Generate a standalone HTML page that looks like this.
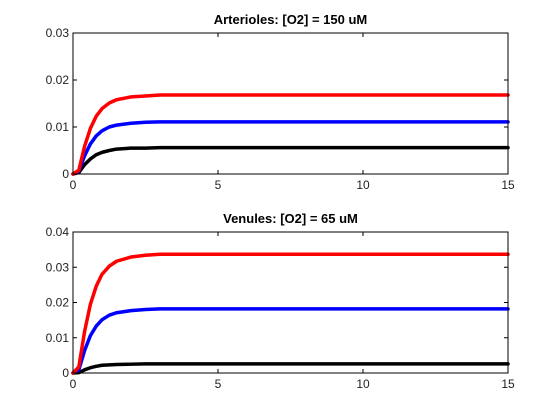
<!DOCTYPE html>
<html><head><meta charset="utf-8"><style>
body{margin:0;background:#fff}
svg{display:block;font-family:"Liberation Sans",Arial,sans-serif}
</style></head><body>
<svg id="c" width="560" height="420"></svg>
<script>
const times=[0,0.2,0.4,0.6,0.8,1.0,1.25,1.5,2,2.5,3,4,6,15];
const artRed=[0,0.0008,0.0059,0.0097,0.0123,0.0139,0.0151,0.0158,0.0164,0.0166,0.0168,0.0168,0.0168,0.0168];
const artBlue=[0,0.0006,0.0039,0.0064,0.0081,0.0092,0.0100,0.0104,0.0108,0.0110,0.0111,0.0111,0.0111,0.0111];
const artBlack=[0,0.0003,0.0020,0.0032,0.0041,0.0046,0.0050,0.0053,0.0055,0.0055,0.0056,0.0056,0.0056,0.0056];
const venRed=[0,0.0017,0.0118,0.0195,0.0246,0.0280,0.0303,0.0317,0.0329,0.0334,0.0337,0.0337,0.0337,0.0337];
const venBlue=[0,0.0009,0.0064,0.0106,0.0133,0.0151,0.0164,0.0171,0.0177,0.0180,0.0182,0.0182,0.0182,0.0182];
const venBlack=[0,0.0001,0.0009,0.0015,0.0019,0.0022,0.0023,0.0024,0.0025,0.0026,0.0026,0.0026,0.0026,0.0026];
const xTicks=[0,5,10,15];
const artYTicks=[0,0.01,0.02,0.03];
const artYLabels=["0","0.01","0.02","0.03"];
const venYTicks=[0,0.01,0.02,0.03,0.04];
const venYLabels=["0","0.01","0.02","0.03","0.04"];
const svg=document.getElementById('c');
const NS='http://www.w3.org/2000/svg';
function mk(tag,attrs,parent){const e=document.createElementNS(NS,tag);for(const k in attrs)e.setAttribute(k,attrs[k]);parent.appendChild(e);return e;}
function panel(name,title,top,bottom,ymax,yTicks,yLabels,series){
  const L=73,R=508;
  const g=mk('g',{},svg);
  
  
  const xs=v=>L+(v/15)*(R-L);
  const ys=v=>bottom-(v/ymax)*(bottom-top);
  const t=mk('text',{x:(L+R)/2,y:top-9,'text-anchor':'middle','font-size':'13','font-weight':'bold',fill:'#000'},g);
  t.textContent=title;
  
  
  xTicks.forEach(v=>{
    const x=xs(v);
    mk('line',{x1:x,x2:x,y1:bottom,y2:bottom-4,stroke:'#000'},g);
    mk('line',{x1:x,x2:x,y1:top,y2:top+4,stroke:'#000'},g);
    const l=mk('text',{x:x,y:bottom+15,'text-anchor':'middle','font-size':'12',fill:'#222'},g);
    l.textContent=String(v);
    
    
  });
  yTicks.forEach((v,i)=>{
    const y=ys(v);
    mk('line',{x1:L,x2:L+4,y1:y,y2:y,stroke:'#000'},g);
    mk('line',{x1:R,x2:R-4,y1:y,y2:y,stroke:'#000'},g);
    const l=mk('text',{x:L-4,y:y+4,'text-anchor':'end','font-size':'12',fill:'#222'},g);
    l.textContent=yLabels[i];
    
    
  });
  series.forEach(s=>{
    const pts=times.map((tv,i)=>xs(tv)+','+ys(s.vals[i])).join(' ');
    const p=mk('polyline',{points:pts,fill:'none',stroke:s.color,'stroke-width':'3.5','stroke-linejoin':'round','stroke-linecap':'round'},g);
    
    
  });
  const box=mk('rect',{x:L,y:top,width:R-L,height:bottom-top,fill:'none',stroke:'#000','stroke-width':'1'},g);
  
  
}
panel('arterioles-panel','Arterioles: [O2] = 150 uM',33,174,0.03,artYTicks,artYLabels,[
  {name:'arterioles-black-line',color:'#000',vals:artBlack},
  {name:'arterioles-blue-line',color:'#0000ff',vals:artBlue},
  {name:'arterioles-red-line',color:'#ff0000',vals:artRed}]);
panel('venules-panel','Venules: [O2] = 65 uM',232,373,0.04,venYTicks,venYLabels,[
  {name:'venules-black-line',color:'#000',vals:venBlack},
  {name:'venules-blue-line',color:'#0000ff',vals:venBlue},
  {name:'venules-red-line',color:'#ff0000',vals:venRed}]);
</script>
</body></html>
